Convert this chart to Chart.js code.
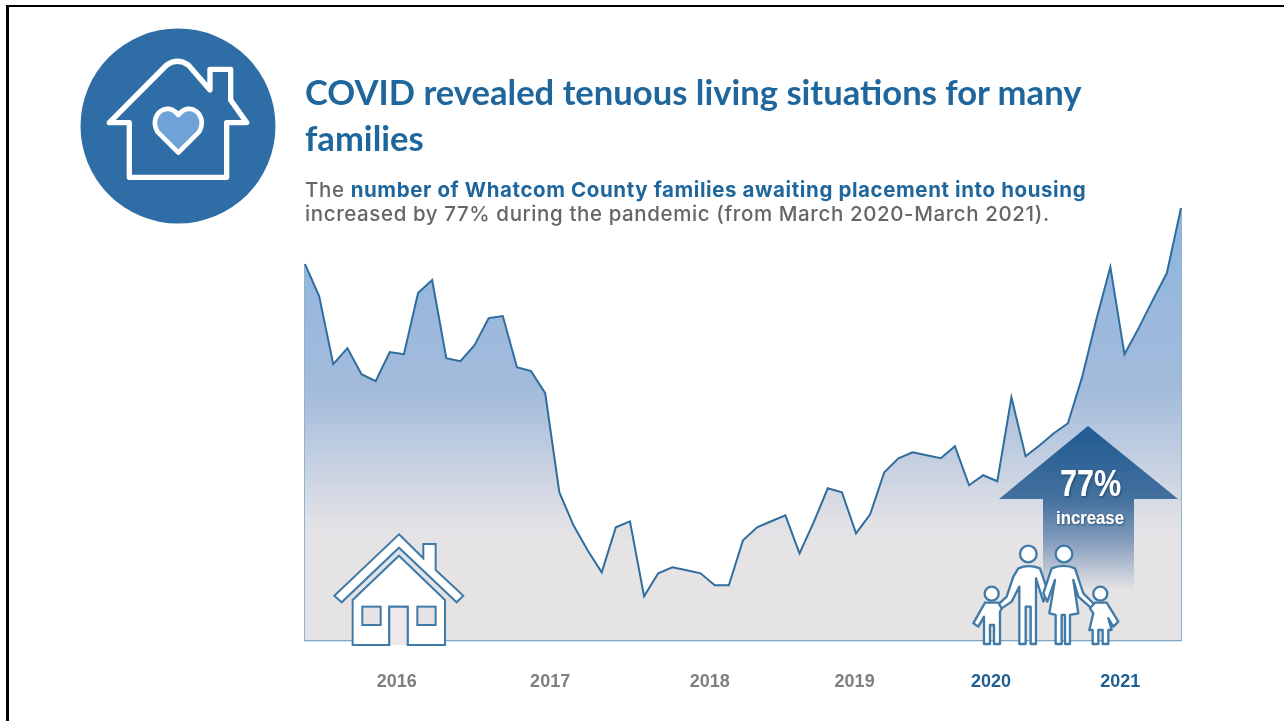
<!DOCTYPE html>
<html>
<head>
<meta charset="utf-8">
<title>COVID revealed tenuous living situations for many families</title>
<script src="https://cdn.jsdelivr.net/npm/chart.js@4"></script>
<style>
  html, body { margin: 0; padding: 0; background: #fff; }
  #page { position: relative; width: 1284px; height: 721px; overflow: hidden; }
  #page > * { position: absolute; }
  #frame { left: 6px; top: 5px; width: 1276px; height: 730px; border-style: solid; border-color: #000; border-width: 2px 1px 0 3px; }
  #chart { left: 0; top: 0; }
  #overlay { left: 0; top: 0; }
  h1 { left: 305px; top: 69px; margin: 0; width: 800px; font: 700 34.6px/46px Lato, sans-serif; color: #1f669c; }
  #sub { left: 305px; top: 178px; width: 900px; font: 500 20.5px/24px Inter, sans-serif; letter-spacing: 0.6px; color: #666; white-space: nowrap; }
  #sub b { color: #1f669c; font-weight: 700; }
</style>
</head>
<body>
<div id="page">
  <div id="frame"></div>
  <canvas id="chart" width="1284" height="725"></canvas>
  <svg id="overlay" width="1284" height="721" viewBox="0 0 1284 721">
    <defs>
      <linearGradient id="arrowFill" gradientUnits="userSpaceOnUse" x1="0" y1="426" x2="0" y2="590">
        <stop offset="0" stop-color="#1f5a92"/>
        <stop offset="0.45" stop-color="#44719f"/>
        <stop offset="0.7" stop-color="#839cbd"/>
        <stop offset="1" stop-color="#e6e3e5"/>
      </linearGradient>
      <filter id="txtShadow" x="-20%" y="-20%" width="140%" height="140%">
        <feDropShadow dx="1" dy="1" stdDeviation="0.8" flood-color="#17375a" flood-opacity="0.7"/>
      </filter>
    </defs>

    <!-- round icon top left -->
    <circle cx="178" cy="126" r="97.5" fill="#2e6da6"/>
    <g transform="translate(70 20) scale(0.3333)">
      <path d="M118 308 L290 135 Q322 112 355 135 L420 210 L420 148 L482 148 L482 240 L530 308 L470 308 L470 472 L178 472 L178 308 Z"
            fill="none" stroke="#fff" stroke-width="16" stroke-linejoin="round"/>
      <path d="M325 398 L262 335 C235 285 290 240 325 285 C360 240 415 285 388 335 Z"
            fill="#6fa3d8" stroke="#fff" stroke-width="14" stroke-linejoin="round"/>
    </g>

    <!-- small house -->
    <g transform="translate(320 525) scale(0.3333)" stroke="#3f7aa8" stroke-width="6" stroke-linejoin="miter">
      <path d="M237 68 L375 225 L98 225 Z" fill="#dfe4ea" stroke="none"/>
      <path d="M237 92 L375 225 L375 360 L263 360 L263 245 L208 245 L208 360 L98 360 L98 225 Z" fill="#fff"/>
      <path d="M237 28 L310 100 L310 57 L347 57 L347 135 L430 212 L410 232 L237 68 L65 232 L43 212 Z" fill="#fff"/>
      <rect x="127" y="245" width="55" height="55" fill="#e6e3e5"/>
      <rect x="292" y="245" width="55" height="55" fill="#e6e3e5"/>
      <path d="M208 245 L263 245 L263 360 L208 360 Z" fill="#eee9e8" stroke="none"/>
      <path d="M208 360 L208 245 L263 245 L263 360" fill="none"/>
    </g>

    <!-- 77% arrow -->
    <path d="M1088 426 L1178 499 L1134 499 L1134 590 L1043 590 L1043 499 L999 499 Z" fill="url(#arrowFill)"/>
    <text x="1060" y="496" textLength="61" lengthAdjust="spacingAndGlyphs" font-family="'Liberation Sans'" font-weight="700" font-size="36" fill="#fff" filter="url(#txtShadow)">77%</text>
    <text x="1056" y="524" textLength="68" lengthAdjust="spacingAndGlyphs" font-family="'Liberation Sans'" font-weight="700" font-size="18" fill="#fff" filter="url(#txtShadow)">increase</text>

    <!-- family -->
    <g transform="translate(960 420) scale(0.3333)" fill="#fff" stroke="#3f7aa8" stroke-width="7" stroke-linejoin="round">
      <circle cx="205" cy="402" r="25"/>
      <circle cx="312" cy="402" r="25"/>
      <circle cx="95" cy="521" r="21"/>
      <circle cx="421" cy="521" r="21"/>
      <path d="M175 445 Q205 432 240 445 L262 510 L250 545 L228 475 L228 672 L212 672 L212 560 L197 560 L197 672 L178 672 L178 500 L155 545 L115 572 L108 560 L140 530 L160 470 Z"/>
      <path d="M275 445 Q312 430 345 445 L370 520 L405 555 L398 568 L355 530 L340 480 L355 580 L330 585 L330 672 L315 672 L315 585 L305 585 L305 672 L287 672 L287 585 L268 580 L285 480 L262 545 L250 520 Z"/>
      <path d="M75 548 L115 548 L125 565 L120 575 L120 672 L102 672 L102 615 L90 615 L90 672 L72 672 L72 590 L55 620 L40 610 Z"/>
      <path d="M405 548 L440 548 L475 605 L460 620 L445 595 L455 630 L445 630 L445 672 L428 672 L428 630 L415 630 L415 672 L398 672 L398 630 L388 630 L400 580 L390 565 Z"/>
    </g>
  </svg>
  <h1>COVID revealed tenuous living situations for many families</h1>
  <div id="sub">The <b>number of Whatcom County families awaiting placement into housing</b><br>increased by 77% during the pandemic (from March 2020-March 2021).</div>
</div>

<script>
// values, height above the baseline (no y axis in the original)
const familiesWaiting = [
  376, 344, 276, 292, 266, 259, 288, 286, 347, 360, 282, 279, 295, 322, 324, 273,
  269, 247, 148, 115, 90, 68, 113, 119, 44, 67, 73, 70, 67, 55, 55, 100,
  113, 119, 125, 87, 118, 152, 148, 107, 126, 168, 182, 188, 185, 182, 194, 155,
  165, 159, 243, 184, 195, 207, 217, 263, 320, 373, 286, 312, 340, 367, 432
];
const yearLabels = ['2016', '2017', '2018', '2019', '2020', '2021'];
// where each year label sits along the months (not evenly spaced in the original)
const yearPositions = [6.5, 17.35, 28.65, 38.9, 48.55, 57.7];
const highlightYears = ['2020', '2021'];

const ctx = document.getElementById('chart').getContext('2d');

function areaGradient(context) {
  const area = context.chart.chartArea;
  if (!area) return '#e6e3e5';
  const g = context.chart.ctx.createLinearGradient(0, area.top, 0, area.bottom);
  g.addColorStop(0, '#8db5de');
  g.addColorStop(0.42, '#a3bbdb');
  g.addColorStop(0.56, '#bfcce0');
  g.addColorStop(0.72, '#e0e0e5');
  g.addColorStop(0.78, '#e6e3e5');
  g.addColorStop(1, '#e6e3e5');
  return g;
}

const lastIndex = familiesWaiting.length - 1;

const chart = new Chart(ctx, {
  type: 'line',
  data: {
    datasets: [{
      label: 'Families awaiting placement',
      data: familiesWaiting.map((v, i) => ({ x: i, y: v })),
      borderColor: '#2f6d9e',
      borderWidth: 2,
      backgroundColor: areaGradient,
      fill: 'origin',
      pointRadius: 0,
      tension: 0,
      clip: false
    }, {
      // thin sides and floor round the area
      label: 'Edge',
      data: [
        { x: 0, y: familiesWaiting[0] },
        { x: 0, y: 0 },
        { x: lastIndex, y: 0 },
        { x: lastIndex, y: familiesWaiting[lastIndex] }
      ],
      borderColor: '#6b9cc2',
      borderWidth: 1.5,
      pointRadius: 0,
      fill: false,
      tension: 0,
      clip: false
    }]
  },
  options: {
    responsive: false,
    animation: false,
    layout: { padding: { left: 305, right: 103, top: 208, bottom: 1 } },
    plugins: { legend: { display: false }, tooltip: { enabled: false } },
    scales: {
      x: {
        type: 'linear',
        min: 0,
        max: lastIndex,
        afterBuildTicks: (axis) => { axis.ticks = yearPositions.map(v => ({ value: v })); },
        grid: { display: false, drawTicks: false },
        border: { display: false },
        ticks: {
          autoSkip: false,
          maxRotation: 0,
          padding: 31,
          font: { family: "'Liberation Sans', sans-serif", size: 18, weight: 'bold' },
          color: (c) => highlightYears.includes(yearLabels[c.index]) ? '#1f5f94' : '#7f7f7f',
          callback: (value, index) => yearLabels[index]
        }
      },
      y: { display: false, min: 0, max: 432 }
    }
  }
});
</script>
</body>
</html>
